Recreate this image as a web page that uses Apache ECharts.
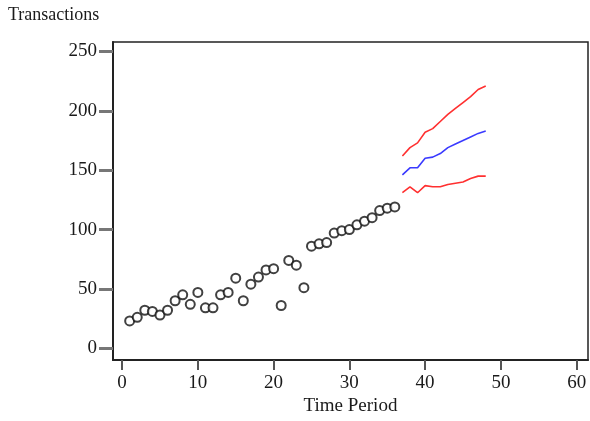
<!DOCTYPE html>
<html>
<head>
<meta charset="utf-8">
<script src="https://cdn.jsdelivr.net/npm/echarts@6/dist/echarts.min.js"></script>
<style>
html, body { margin: 0; padding: 0; background: #fff; }
#chart { width: 590px; height: 421px; }
</style>
</head>
<body>
<div id="chart"></div>
<script>
// observed transactions, periods 1..36
var periods = [1,2,3,4,5,6,7,8,9,10,11,12,13,14,15,16,17,18,19,20,21,22,23,24,25,26,27,28,29,30,31,32,33,34,35,36];
var observed = [23,26,32,31,28,32,40,45,37,47,34,34,45,47,59,40,54,60,66,67,36,74,70,51,86,88,89,97,99,100,104,107,110,116,118,119];

// forecast periods 37..48
var forecastPeriods = [37,38,39,40,41,42,43,44,45,46,47,48];
var forecast = [146,152,152,160,161,164,169,172,175,178,181,183];
var upper = [162,169,173,182,185,191,197,202,207,212,218,221];
var lower = [131,136,131,137,136,136,138,139,140,143,145,145];

var xTicks = [0,10,20,30,40,50,60];
var yTicks = [0,50,100,150,200,250];

var pairs = function(xs, ys) {
	return xs.map(function(x, i) { return [x, ys[i]]; });
};

var labelFont = {
	fontFamily: 'Liberation Serif',
	fontSize: 19,
	color: '#1a1a1a'
};

var chart = echarts.init(document.getElementById('chart'));
chart.setOption({
	animation: false,
	backgroundColor: '#fff',
	grid: {
		left: 113,
		right: 2,
		top: 42,
		bottom: 58,
		show: true,
		borderColor: '#222',
		borderWidth: 1.5
	},
	graphic: [{
		type: 'text',
		left: 8,
		top: 6,
		style: {
			text: 'Transactions',
			font: '18px "Liberation Serif"',
			fill: '#1a1a1a'
		}
	}],
	xAxis: {
		type: 'value',
		min: -1.2,
		max: 61.5,
		name: 'Time Period',
		nameLocation: 'middle',
		nameGap: 36,
		nameTextStyle: labelFont,
		axisLine: { show: true, onZero: false, lineStyle: { color: '#222', width: 2 } },
		axisTick: { show: true, customValues: xTicks, length: 10, lineStyle: { color: '#555', width: 2 } },
		axisLabel: Object.assign({ customValues: xTicks, margin: 13 }, labelFont),
		splitLine: { show: false }
	},
	yAxis: {
		type: 'value',
		min: -10,
		max: 258,
		axisLine: { show: true, onZero: false, lineStyle: { color: '#222', width: 2 } },
		axisTick: { show: true, customValues: yTicks, length: 14, lineStyle: { color: '#777', width: 3 } },
		axisLabel: Object.assign({ customValues: yTicks, margin: 16 }, labelFont),
		splitLine: { show: false }
	},
	series: [{
		type: 'scatter',
		data: pairs(periods, observed),
		symbol: 'emptyCircle',
		symbolSize: 9,
		itemStyle: { color: '#111', borderColor: '#111', borderWidth: 1.6 },
		z: 3
	}, {
		type: 'line',
		data: pairs(forecastPeriods, upper),
		showSymbol: false,
		lineStyle: { color: '#ff3030', width: 1.6 }
	}, {
		type: 'line',
		data: pairs(forecastPeriods, forecast),
		showSymbol: false,
		lineStyle: { color: '#3a3aff', width: 1.6 }
	}, {
		type: 'line',
		data: pairs(forecastPeriods, lower),
		showSymbol: false,
		lineStyle: { color: '#ff3030', width: 1.6 }
	}]
});
</script>
</body>
</html>
